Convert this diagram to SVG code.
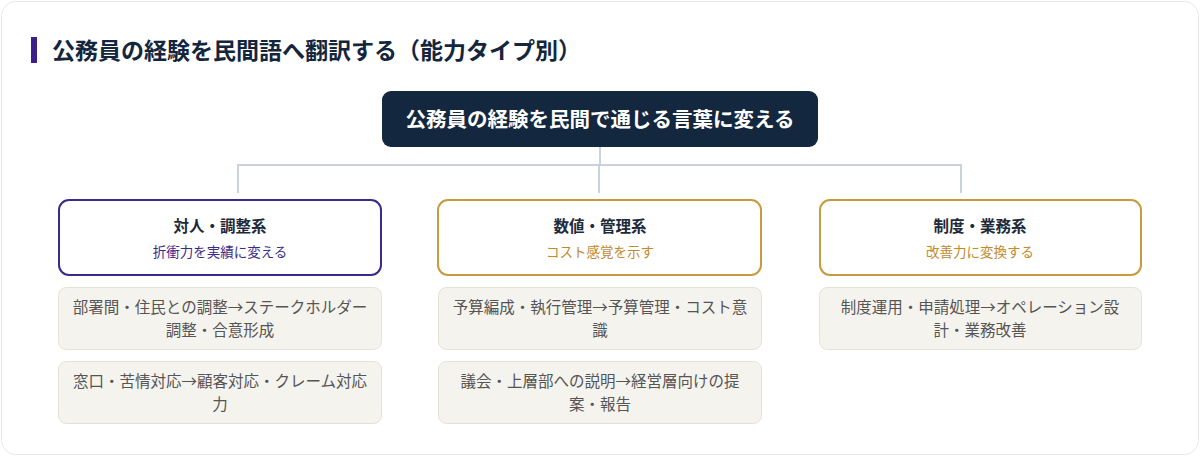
<svg xmlns="http://www.w3.org/2000/svg" width="1200" height="456" viewBox="0 0 1200 456">
<style>
text{font-family:"Noto Sans CJK JP","Noto Sans",sans-serif}
.cat{fill:#fff;stroke-width:2}
.ct{font-size:15.5px;font-weight:700;fill:#1e2a3a;text-anchor:middle}
.cs{font-size:13.5px;text-anchor:middle}
.it{fill:#f5f3ee;stroke:#e4e1d9;stroke-width:1}
.itx{font-size:15.5px;fill:#555;text-anchor:middle}
.ln{fill:none;stroke:#cbd2da;stroke-width:2}
</style>
<rect x="1.5" y="1.5" width="1197" height="453" rx="14" fill="#fff" stroke="#e8e8e8"/>
<rect x="31" y="37" width="6" height="26" fill="#3b1f8c"/>
<text x="52" y="59" font-size="23" font-weight="700" fill="#14263d">公務員の経験を民間語へ翻訳する（能力タイプ別）</text>
<g id="connectors">
<path class="ln" d="M600 147V165M238 193V165H961V193M599 165V193"/>
</g>
<g id="root">
<rect x="382" y="91" width="436" height="56" rx="9" fill="#13273f"/>
<text x="600" y="127" font-size="20.5" font-weight="700" fill="#fff" text-anchor="middle">公務員の経験を民間で通じる言葉に変える</text>
</g>
<g id="cat1">
<rect class="cat" x="59" y="200" width="322" height="75" rx="10" stroke="#3b2a8c"/>
<text class="ct" x="220" y="232">対人・調整系</text>
<text class="cs" x="220" y="257" fill="#3b2a8c">折衝力を実績に変える</text>
</g>
<g id="cat2">
<rect class="cat" x="438" y="200" width="323" height="75" rx="10" stroke="#c99a3e"/>
<text class="ct" x="600" y="232">数値・管理系</text>
<text class="cs" x="600" y="257" fill="#c08a2e">コスト感覚を示す</text>
</g>
<g id="cat3">
<rect class="cat" x="820" y="200" width="321" height="75" rx="10" stroke="#c99a3e"/>
<text class="ct" x="980" y="232">制度・業務系</text>
<text class="cs" x="980" y="257" fill="#c08a2e">改善力に変換する</text>
</g>
<g id="item1">
<rect class="it" x="58.5" y="287.5" width="323" height="62" rx="8"/>
<text class="itx" x="220" y="313">部署間・住民との調整→ステークホルダー</text>
<text class="itx" x="220" y="336">調整・合意形成</text>
</g>
<g id="item2">
<rect class="it" x="58.5" y="361.5" width="323" height="62" rx="8"/>
<text class="itx" x="220" y="387">窓口・苦情対応→顧客対応・クレーム対応</text>
<text class="itx" x="220" y="410">力</text>
</g>
<g id="item3">
<rect class="it" x="438.5" y="287.5" width="323" height="62" rx="8"/>
<text class="itx" x="600" y="313">予算編成・執行管理→予算管理・コスト意</text>
<text class="itx" x="600" y="336">識</text>
</g>
<g id="item4">
<rect class="it" x="438.5" y="361.5" width="323" height="62" rx="8"/>
<text class="itx" x="600" y="387">議会・上層部への説明→経営層向けの提</text>
<text class="itx" x="600" y="410">案・報告</text>
</g>
<g id="item5">
<rect class="it" x="819.5" y="287.5" width="322" height="62" rx="8"/>
<text class="itx" x="980" y="313">制度運用・申請処理→オペレーション設</text>
<text class="itx" x="980" y="336">計・業務改善</text>
</g>
</svg>
